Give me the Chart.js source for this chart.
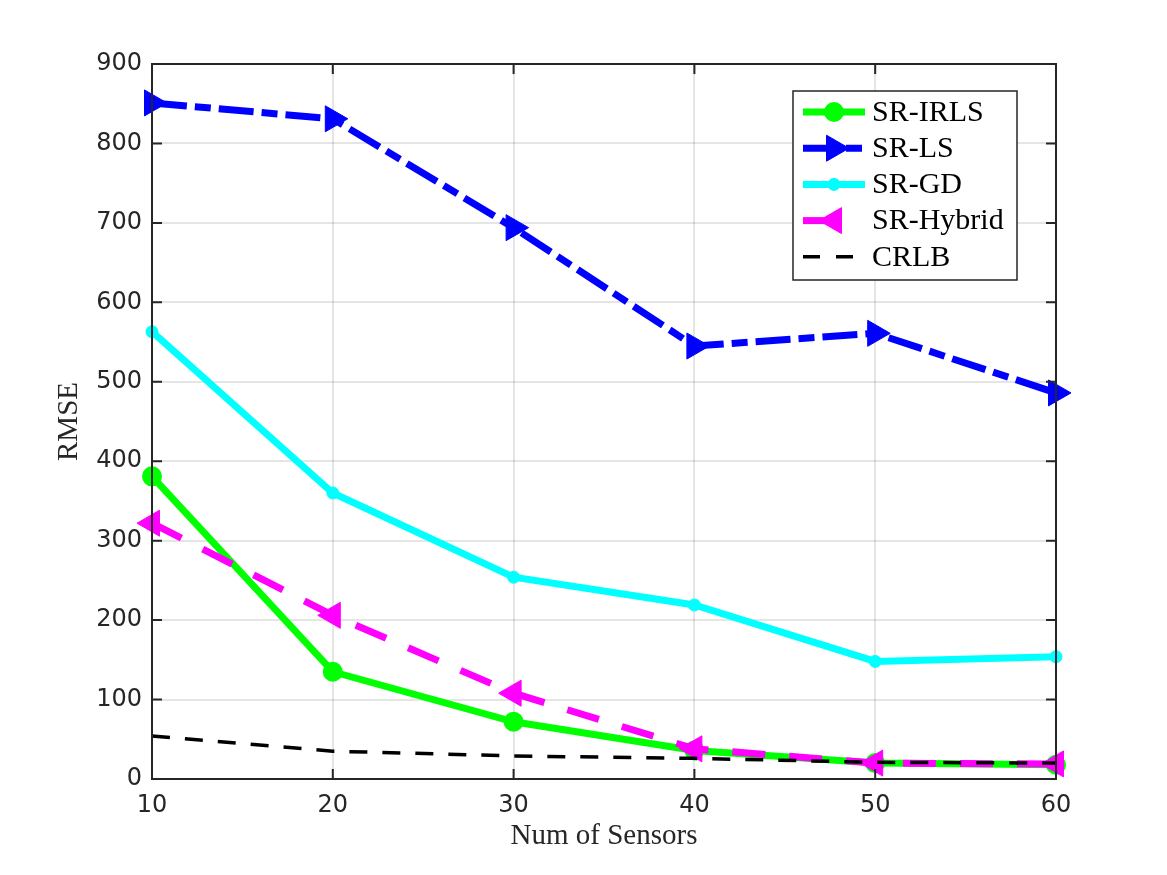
<!DOCTYPE html>
<html>
<head>
<meta charset="utf-8">
<script src="https://cdn.jsdelivr.net/npm/chart.js@4.4.0/dist/chart.umd.min.js"></script>
<style>
html,body{margin:0;padding:0;background:#fff;}
#wrap{width:1167px;height:875px;position:relative;}
</style>
</head>
<body>
<div id="wrap"><canvas id="c"></canvas></div>
<script>
const sensors = [10, 20, 30, 40, 50, 60];
const srIRLS   = [381, 135, 72, 36, 20, 18];
const srLS     = [851, 831, 694, 545, 561, 486];
const srGD     = [563, 360, 254, 219, 148, 154];
const srHybrid = [322, 206, 108, 38, 20, 19];
const crlb     = [54, 35, 29, 26, 21, 20];
const yTicks = [0, 100, 200, 300, 400, 500, 600, 700, 800, 900];
const xTicks = [10, 20, 30, 40, 50, 60];

const pts = arr => sensors.map((s, i) => ({x: s, y: arr[i]}));
const AX = '#262626';

const datasets = [
  {label:'SR-IRLS', data:pts(srIRLS), borderColor:'#00ff00', backgroundColor:'#00ff00',
   borderWidth:7, borderDash:[], pointStyle:'circle', pointRadius:9, pointBorderWidth:2, pointRotation:0, order:5},
  {label:'SR-LS', data:pts(srLS), borderColor:'#0000ff', backgroundColor:'#0000ff',
   borderWidth:7, borderDash:[35,8,16,8], pointStyle:'triangle', pointRadius:15, pointBorderWidth:1, pointRotation:90, order:4},
  {label:'SR-GD', data:pts(srGD), borderColor:'#00ffff', backgroundColor:'#00ffff',
   borderWidth:7, borderDash:[], pointStyle:'circle', pointRadius:6, pointBorderWidth:1, pointRotation:0, order:3},
  {label:'SR-Hybrid', data:pts(srHybrid), borderColor:'#ff00ff', backgroundColor:'#ff00ff',
   borderWidth:7, borderDash:[33,24], pointStyle:'triangle', pointRadius:15, pointBorderWidth:1, pointRotation:-90, order:2},
  {label:'CRLB', data:pts(crlb), borderColor:'#000000', backgroundColor:'#000000',
   borderWidth:3.5, borderDash:[18,15], pointStyle:false, pointRadius:0, pointBorderWidth:0, pointRotation:0, order:1}
];
datasets.forEach(d => { d.clip = false; d.tension = 0; d.fill = false; d.pointHoverRadius = d.pointRadius; });
const legendDash = {'SR-Hybrid': [30, 40], 'CRLB': [17, 16]};

const boxPlugin = {
  id: 'box',
  afterDraw(chart) {
    const {ctx, chartArea: a, scales: {x, y}} = chart;
    ctx.save();
    ctx.strokeStyle = AX;
    ctx.lineWidth = 2;
    ctx.setLineDash([]);
    const L = 10;
    ctx.beginPath();
    xTicks.forEach(v => {
      const px = x.getPixelForValue(v);
      ctx.moveTo(px, a.bottom); ctx.lineTo(px, a.bottom - L);
      ctx.moveTo(px, a.top); ctx.lineTo(px, a.top + L);
    });
    yTicks.forEach(v => {
      const py = y.getPixelForValue(v);
      ctx.moveTo(a.left, py); ctx.lineTo(a.left + L, py);
      ctx.moveTo(a.right, py); ctx.lineTo(a.right - L, py);
    });
    ctx.stroke();
    ctx.strokeRect(a.left, a.top, a.right - a.left, a.bottom - a.top);
    ctx.restore();
  }
};

const legendPlugin = {
  id: 'mlegend',
  afterDraw(chart) {
    const {ctx, chartArea: a} = chart;
    const bx = a.right - 263, by = a.top + 27, bw = 224, bh = 189;
    ctx.save();
    ctx.fillStyle = '#fff';
    ctx.fillRect(bx, by, bw, bh);
    ctx.strokeStyle = AX;
    ctx.lineWidth = 1.5;
    ctx.strokeRect(bx, by, bw, bh);
    const rowH = 36.2, y0 = by + 21;
    chart.data.datasets.forEach((d, i) => {
      const cy = y0 + i * rowH;
      const x1 = bx + 10, x2 = bx + 72, xm = (x1 + x2) / 2;
      ctx.save();
      ctx.strokeStyle = d.borderColor;
      ctx.lineWidth = d.borderWidth;
      ctx.setLineDash(legendDash[d.label] || d.borderDash);
      ctx.beginPath(); ctx.moveTo(x1, cy); ctx.lineTo(x2, cy); ctx.stroke();
      ctx.setLineDash([]);
      if (d.pointStyle) {
        ctx.fillStyle = d.backgroundColor;
        ctx.strokeStyle = d.borderColor;
        ctx.lineWidth = d.pointBorderWidth;
        Chart.helpers.drawPoint(ctx, {pointStyle: d.pointStyle, radius: d.pointRadius,
          rotation: d.pointRotation, borderWidth: d.pointBorderWidth}, xm, cy);
      }
      ctx.restore();
      ctx.fillStyle = '#000';
      ctx.font = '30px "Liberation Serif", serif';
      ctx.textBaseline = 'middle';
      ctx.textAlign = 'left';
      ctx.fillText(d.label, bx + 79, cy + 1);
    });
    ctx.restore();
  }
};

new Chart(document.getElementById('c'), {
  type: 'line',
  data: {datasets},
  plugins: [boxPlugin, legendPlugin],
  options: {
    responsive: true,
    maintainAspectRatio: false,
    animation: false,
    events: [],
    layout: {padding: {top: 64, right: 111, bottom: 0, left: 0}},
    plugins: {legend: {display: false}, tooltip: {enabled: false}},
    scales: {
      x: {
        type: 'linear', min: 10, max: 60,
        afterFit: s => { s.height = 96; },
        afterBuildTicks: s => { s.ticks = xTicks.map(v => ({value: v})); },
        ticks: {color: AX, font: {family: '"DejaVu Sans", sans-serif', size: 24}, padding: 12},
        grid: {color: 'rgba(38,38,38,0.12)', lineWidth: 2, drawTicks: false},
        border: {display: false},
        title: {display: true, text: 'Num of Sensors', color: AX,
          font: {family: '"Liberation Serif", serif', size: 29}, padding: {top: 0, bottom: 21}}
      },
      y: {
        type: 'linear', min: 0, max: 900,
        afterFit: s => { s.width = 152; },
        afterBuildTicks: s => { s.ticks = yTicks.map(v => ({value: v})); },
        ticks: {color: AX, font: {family: '"DejaVu Sans", sans-serif', size: 24}, padding: 10},
        grid: {color: 'rgba(38,38,38,0.12)', lineWidth: 2, drawTicks: false},
        border: {display: false},
        title: {display: true, text: 'RMSE', color: AX,
          font: {family: '"Liberation Serif", serif', size: 29}, padding: {top: 52, bottom: 0}}
      }
    }
  }
});
</script>
</body>
</html>
